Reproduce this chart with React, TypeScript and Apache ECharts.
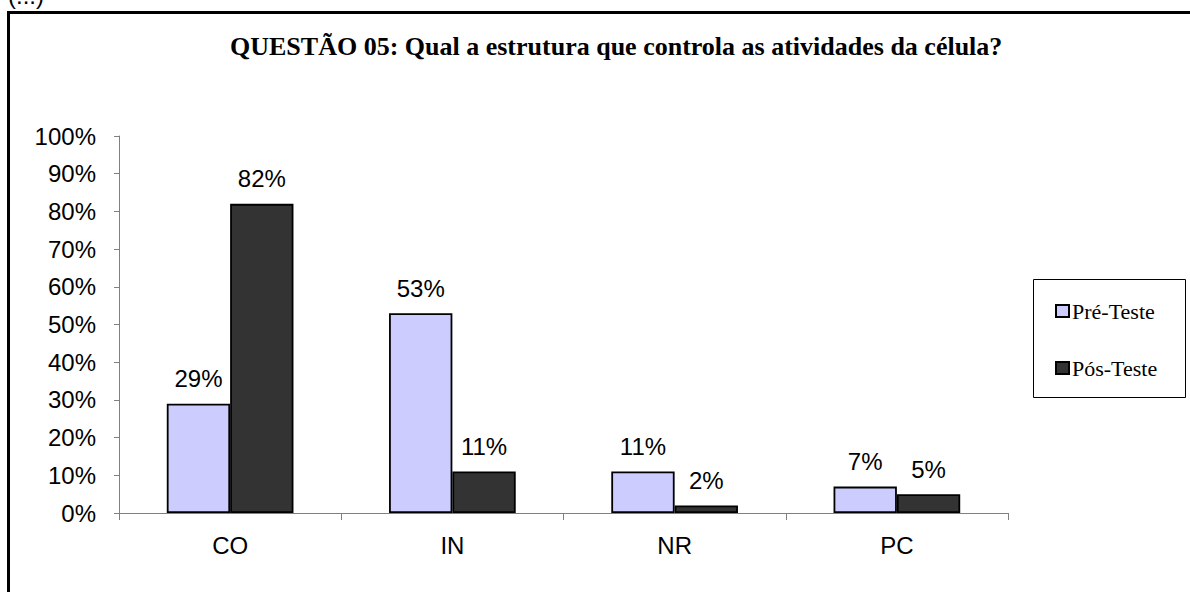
import React, { useEffect, useRef } from "react";
import * as echarts from "echarts";

const categories = ["CO", "IN", "NR", "PC"];
const preTeste = [29, 53, 11, 7];
const posTeste = [82, 11, 2, 5];
const seriesNames = ["Pré-Teste", "Pós-Teste"];
const titleText = "QUESTÃO 05: Qual a estrutura que controla as atividades da célula?";

export default function App() {
  const ref = useRef<HTMLDivElement>(null);
  useEffect(() => {
    document.body.style.margin = "0";
    const chart = echarts.init(ref.current!, null, { renderer: "svg" });
    const labelStyle = {
      show: true,
      position: "top" as const,
      distance: 13,
      formatter: "{c}%",
      fontFamily: "Liberation Sans, Arial",
      fontSize: 24,
      color: "#000",
    };
    chart.setOption({
      animation: false,
      backgroundColor: "#fff",
      title: {
        text: titleText,
        left: 230,
        top: 33,
        padding: 0,
        textStyle: {
          fontFamily: "Liberation Serif, Times New Roman",
          fontWeight: "bold",
          fontSize: 26,
          color: "#000",
        },
      },
      legend: {
        orient: "vertical",
        left: 1055,
        top: 300,
        padding: 0,
        itemWidth: 13,
        itemHeight: 12,
        itemGap: 35,
        icon: "rect",
        textStyle: {
          fontFamily: "Liberation Serif, Times New Roman",
          fontSize: 22,
          lineHeight: 22,
          color: "#000",
          padding: [0, 0, 0, -2],
        },
        data: seriesNames,
      },
      grid: { left: 119, right: 182, top: 136, bottom: 79 },
      xAxis: {
        type: "category",
        data: categories,
        axisLine: { lineStyle: { color: "#808080", width: 1 } },
        axisTick: { show: true, length: 7, lineStyle: { color: "#808080" } },
        axisLabel: {
          fontFamily: "Liberation Sans, Arial",
          fontSize: 24,
          color: "#000",
          margin: 20,
        },
      },
      yAxis: {
        type: "value",
        min: 0,
        max: 100,
        interval: 10,
        splitLine: { show: false },
        axisLine: { show: true, lineStyle: { color: "#808080", width: 1 } },
        axisTick: { show: true, length: 5, lineStyle: { color: "#808080" } },
        axisLabel: {
          formatter: "{value}%",
          fontFamily: "Liberation Sans, Arial",
          fontSize: 24,
          color: "#000",
          margin: 23,
        },
      },
      series: [
        {
          name: seriesNames[0],
          type: "bar",
          data: preTeste,
          barGap: "0%",
          barCategoryGap: "43%",
          itemStyle: { color: "#CCCCFF", borderColor: "#000", borderWidth: 1.8 },
          label: labelStyle,
        },
        {
          name: seriesNames[1],
          type: "bar",
          data: posTeste,
          itemStyle: { color: "#333333", borderColor: "#000", borderWidth: 1.8 },
          label: labelStyle,
        },
      ],
      graphic: [
        {
          type: "rect",
          shape: { x: 8.5, y: 12.5, width: 1250, height: 650 },
          style: { fill: "none", stroke: "#000", lineWidth: 3 },
          silent: true,
        },
        {
          type: "rect",
          shape: { x: 1033.5, y: 279.5, width: 152, height: 118 },
          style: { fill: "none", stroke: "#000", lineWidth: 1 },
          silent: true,
        },
        {
          type: "text",
          x: 8,
          y: -17,
          style: {
            text: "(...)",
            font: "24px Liberation Sans, Arial",
            fill: "#000",
          },
          silent: true,
        },
      ],
    });
    return () => chart.dispose();
  }, []);
  return (
    <div
      ref={ref}
      style={{ position: "absolute", left: 0, top: 0, width: 1190, height: 592 }}
    />
  );
}
